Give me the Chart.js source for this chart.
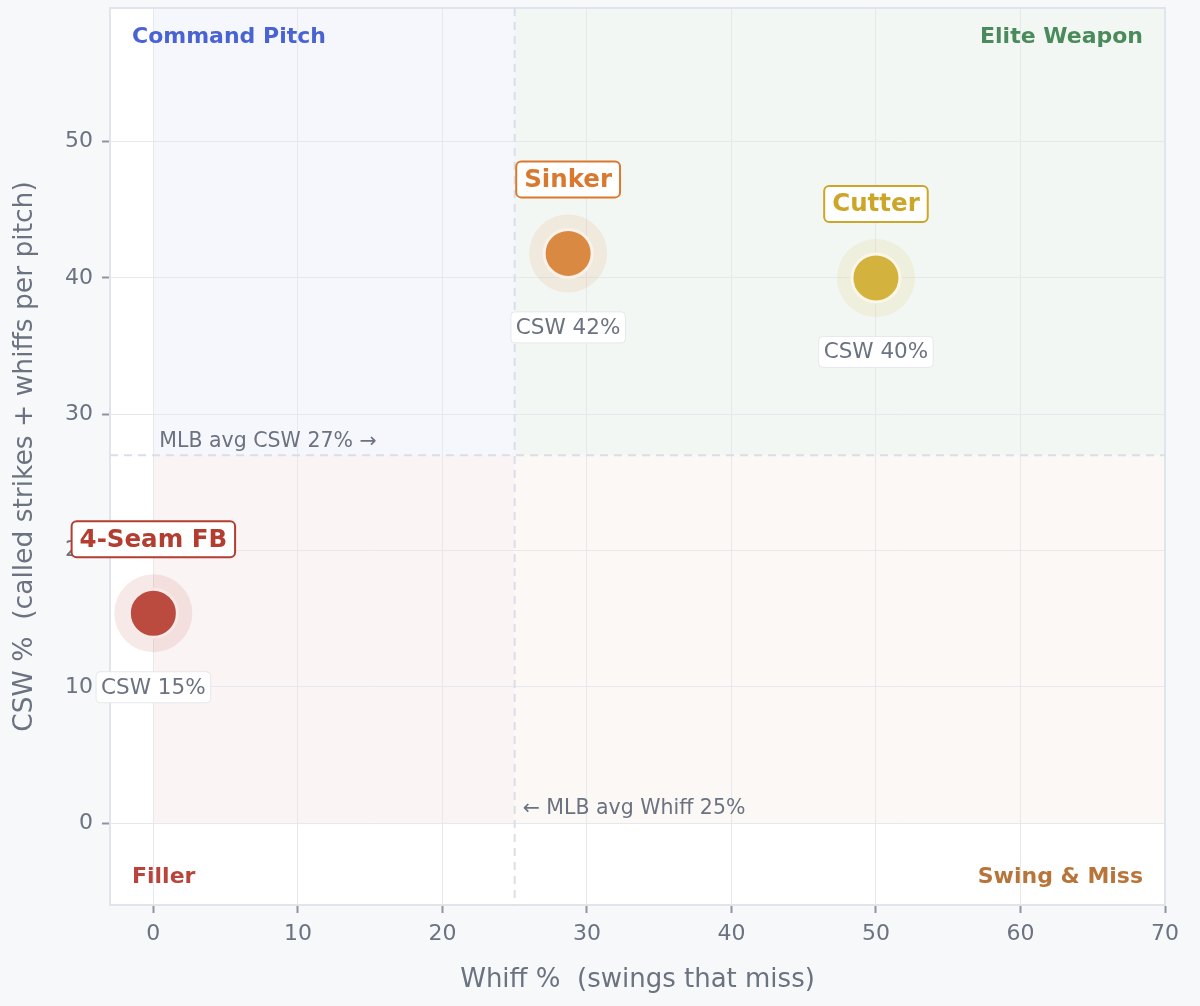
<!DOCTYPE html>
<html>
<head>
<meta charset="utf-8">
<script src="https://cdn.jsdelivr.net/npm/chart.js@4.4.1/dist/chart.umd.min.js"></script>
<style>
  html, body { margin: 0; padding: 0; background: #f7f8fa; }
  #wrap { width: 1200px; height: 1006px; }
</style>
</head>
<body>
<div id="wrap"><canvas id="pitchChart"></canvas></div>
<script>
// pitch data
var pitchNames = ['4-Seam FB', 'Sinker', 'Cutter'];
var whiffPct = [0, 28.7, 50];
var cswPct = [15.4, 41.8, 40];
var pitchColors = ['#bb4c3e', '#da8942', '#d4b23e'];
var labelColors = ['#b23d30', '#d9792f', '#cba629'];

// league reference lines
var avgWhiff = 25;
var avgCsw = 27;

// axis ranges / ticks
var xRange = [-3, 70];
var yRange = [-6, 59.8];
var tickStep = 10;

var quadNames = ['Command Pitch', 'Elite Weapon', 'Filler', 'Swing & Miss'];
var quadColors = ['#4a63d3', '#4b8b5b', '#b8443c', '#b8753a'];

var FONT = '"DejaVu Sans", sans-serif';
var GRAY = '#6b7280';

function hexAlpha(hex, a) {
  var n = parseInt(hex.slice(1), 16);
  return 'rgba(' + (n >> 16) + ',' + ((n >> 8) & 255) + ',' + (n & 255) + ',' + a + ')';
}

var points = whiffPct.map(function (w, i) {
  return { x: w, y: cswPct[i] };
});

var quadrantPlugin = {
  id: 'quadrants',
  beforeDraw: function (chart) {
    var ctx = chart.ctx, a = chart.chartArea;
    var xs = chart.scales.x, ys = chart.scales.y;
    ctx.save();
    ctx.fillStyle = '#ffffff';
    ctx.fillRect(a.left, a.top, a.right - a.left, a.bottom - a.top);
    var x0 = xs.getPixelForValue(0), xm = xs.getPixelForValue(avgWhiff), x1 = xs.getPixelForValue(xRange[1]);
    var y0 = ys.getPixelForValue(0), ym = ys.getPixelForValue(avgCsw), y1 = a.top;
    ctx.fillStyle = hexAlpha(quadColors[0], 0.05);
    ctx.fillRect(x0, y1, xm - x0, ym - y1);
    ctx.fillStyle = hexAlpha(quadColors[1], 0.07);
    ctx.fillRect(xm, y1, x1 - xm, ym - y1);
    ctx.fillStyle = hexAlpha(quadColors[2], 0.06);
    ctx.fillRect(x0, ym, xm - x0, y0 - ym);
    ctx.fillStyle = hexAlpha(quadColors[3], 0.05);
    ctx.fillRect(xm, ym, x1 - xm, y0 - ym);
    ctx.restore();
  },
  beforeDatasetsDraw: function (chart) {
    var ctx = chart.ctx, a = chart.chartArea;
    var xs = chart.scales.x, ys = chart.scales.y;
    var xm = xs.getPixelForValue(avgWhiff), ym = ys.getPixelForValue(avgCsw);
    ctx.save();
    // outer frame
    ctx.strokeStyle = '#e1e4ea';
    ctx.lineWidth = 2;
    ctx.strokeRect(a.left, a.top, a.right - a.left, a.bottom - a.top);
    // average lines
    ctx.strokeStyle = '#dadee6';
    ctx.lineWidth = 2;
    ctx.setLineDash([8, 6]);
    ctx.beginPath();
    ctx.moveTo(a.left, ym); ctx.lineTo(a.right, ym);
    ctx.moveTo(xm, a.top); ctx.lineTo(xm, a.bottom);
    ctx.stroke();
    ctx.setLineDash([]);
    ctx.fillStyle = GRAY;
    ctx.font = '20.5px ' + FONT;
    ctx.textAlign = 'left';
    ctx.textBaseline = 'bottom';
    ctx.fillText('MLB avg CSW ' + avgCsw + '% \u2192', xs.getPixelForValue(0) + 6, ym - 3);
    ctx.textBaseline = 'middle';
    ctx.fillText('\u2190 MLB avg Whiff ' + avgWhiff + '%', xm + 8, ys.getPixelForValue(0) - 15);
    // quadrant names
    ctx.font = 'bold 22px ' + FONT;
    ctx.textBaseline = 'middle';
    var topY = a.top + 29, botY = a.bottom - 28;
    ctx.fillStyle = quadColors[0]; ctx.textAlign = 'left';
    ctx.fillText(quadNames[0], a.left + 22, topY);
    ctx.fillStyle = quadColors[1]; ctx.textAlign = 'right';
    ctx.fillText(quadNames[1], a.right - 22, topY);
    ctx.fillStyle = quadColors[2]; ctx.textAlign = 'left';
    ctx.fillText(quadNames[2], a.left + 22, botY);
    ctx.fillStyle = quadColors[3]; ctx.textAlign = 'right';
    ctx.fillText(quadNames[3], a.right - 22, botY);
    ctx.restore();
  },
  afterDraw: function (chart) {
    var ctx = chart.ctx;
    var meta = chart.getDatasetMeta(1);
    ctx.save();
    meta.data.forEach(function (pt, i) {
      var px = pt.x, py = pt.y;
      // name tag
      ctx.font = 'bold 24.5px ' + FONT;
      var w = ctx.measureText(pitchNames[i]).width + 16;
      var h = 36, cy = py - 74;
      ctx.beginPath();
      ctx.roundRect(px - w / 2, cy - h / 2, w, h, 5);
      ctx.fillStyle = '#ffffff';
      ctx.fill();
      ctx.lineWidth = 2;
      ctx.strokeStyle = labelColors[i];
      ctx.stroke();
      ctx.fillStyle = labelColors[i];
      ctx.textAlign = 'center';
      ctx.textBaseline = 'middle';
      ctx.fillText(pitchNames[i], px, cy + 1);
      // csw tag
      var txt = 'CSW ' + Math.round(cswPct[i]) + '%';
      ctx.font = '21.5px ' + FONT;
      var w2 = ctx.measureText(txt).width + 10;
      var h2 = 31, cy2 = py + 74;
      ctx.beginPath();
      ctx.roundRect(px - w2 / 2, cy2 - h2 / 2, w2, h2, 4);
      ctx.fillStyle = 'rgba(255,255,255,0.95)';
      ctx.fill();
      ctx.lineWidth = 1;
      ctx.strokeStyle = '#e5e7eb';
      ctx.stroke();
      ctx.fillStyle = GRAY;
      ctx.fillText(txt, px, cy2 + 1);
    });
    ctx.restore();
  }
};

var ctx = document.getElementById('pitchChart').getContext('2d');
var pitchChart = new Chart(ctx, {
  type: 'scatter',
  data: {
    datasets: [{
      label: 'halo',
      data: points,
      pointRadius: 39,
      pointBackgroundColor: pitchColors.map(function (c) { return hexAlpha(c, 0.12); }),
      pointBorderWidth: 0,
      pointBorderColor: 'rgba(0,0,0,0)'
    }, {
      label: 'pitches',
      data: points,
      pointRadius: 24,
      pointBackgroundColor: pitchColors,
      pointBorderColor: '#ffffff',
      pointBorderWidth: 3
    }]
  },
  options: {
    responsive: true,
    maintainAspectRatio: false,
    animation: false,
    events: [],
    layout: { autoPadding: false, padding: { top: 8, right: 35, left: 0, bottom: 0 } },
    plugins: { legend: { display: false }, tooltip: { enabled: false } },
    scales: {
      x: {
        type: 'linear',
        min: xRange[0],
        max: xRange[1],
        afterFit: function (s) { s.height = 101; s.paddingLeft = 0; s.paddingRight = 0; },
        ticks: { stepSize: tickStep, includeBounds: false, color: GRAY, padding: 8, font: { family: FONT, size: 22 } },
        grid: { color: '#e6e8ee', lineWidth: 1, tickLength: 8, tickColor: '#8e94a0', tickWidth: 2 },
        border: { color: '#e1e4ea', width: 2 },
        title: { display: true, text: 'Whiff %  (swings that miss)', color: GRAY, font: { family: FONT, size: 26 }, padding: { top: 0, bottom: 10 } }
      },
      y: {
        type: 'linear',
        min: yRange[0],
        max: yRange[1],
        afterFit: function (s) { s.width = 110; s.paddingTop = 0; s.paddingBottom = 0; },
        ticks: { stepSize: tickStep, includeBounds: false, color: GRAY, padding: 9, font: { family: FONT, size: 22 } },
        grid: { color: '#e6e8ee', lineWidth: 1, tickLength: 8, tickColor: '#8e94a0', tickWidth: 2 },
        border: { color: '#e1e4ea', width: 2 },
        title: { display: true, text: 'CSW %  (called strikes + whiffs per pitch)', color: GRAY, font: { family: FONT, size: 26.5 }, padding: { top: 9, bottom: 0 } }
      }
    }
  },
  plugins: [quadrantPlugin]
});
</script>
</body>
</html>
